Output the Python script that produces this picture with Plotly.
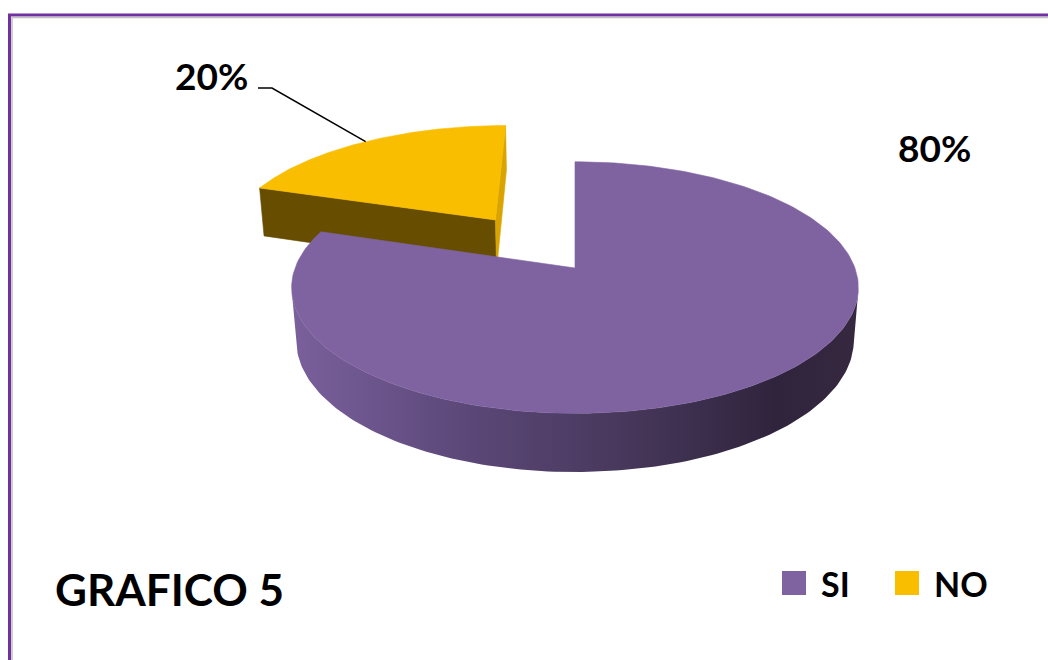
import numpy as np
import plotly.graph_objects as go

# Chart data
labels = ["SI", "NO"]
values = [80, 20]
pct_text = ["80%", "20%"]
top_colors = ["#7F63A1", "#F9BE00"]
side_colors = ["#4F3F66", "#5E4600"]
cut_colors = ["#3A2C4A", "#664D00"]
explode = [0.0, 0.515]

# 3D pie geometry: unit-radius cylinder seen in perspective
CX, CY = 575.0, 268.0      # screen position of the pie centre
FOCAL = 1618.0
DIST = 5.78
TILT = np.radians(26.0)
THICK = 0.21
S, C = np.sin(TILT), np.cos(TILT)
CAM = np.array([0.0, -DIST * C, DIST * S])

W, H = 1048, 660
FONT = "Lato"


def project(X, Y, Z):
    X, Y, Z = np.asarray(X, float), np.asarray(Y, float), np.asarray(Z, float)
    yc = Y * S + Z * C
    d = DIST + Y * C - Z * S
    return CX + FOCAL * X / d, CY - FOCAL * yc / d


def depth(X, Y, Z):
    return DIST + Y * C - Z * S


fig = go.Figure()


def poly(xs, ys, color, gradient=None):
    tr = dict(x=list(xs) + [xs[0]], y=list(ys) + [ys[0]], mode="lines",
              fill="toself", fillcolor=color, line=dict(width=0.6, color=color),
              hoverinfo="skip", showlegend=False)
    if gradient is not None:
        tr["fillgradient"] = gradient
        tr["line"] = dict(width=0)
    fig.add_trace(go.Scatter(**tr))


# slice angles, clockwise from 12 o'clock
total = float(sum(values))
bounds = np.concatenate([[0.0], np.cumsum(values) / total * 2 * np.pi])
slices = []
for i, lab in enumerate(labels):
    a0, a1 = bounds[i], bounds[i + 1]
    am = 0.5 * (a0 + a1)
    off = explode[i] * np.array([np.sin(am), np.cos(am)])
    slices.append(dict(i=i, a0=a0, a1=a1, am=am, off=off,
                       d=depth(off[0], off[1], 0.0)))

purple_side_grad = dict(type="horizontal",
                        colorscale=[[0.0, "#7A609C"], [0.3, "#5C4879"],
                                    [0.6, "#46375A"], [0.85, "#30243D"],
                                    [1.0, "#35283F"]])

label_anchor = {}
# farthest slice is painted first
for sl in sorted(slices, key=lambda s: -s["d"]):
    i, a0, a1, off = sl["i"], sl["a0"], sl["a1"], sl["off"]
    t = np.linspace(a0, a1, 241)
    rx = off[0] + np.sin(t)
    ry = off[1] + np.cos(t)

    # outer curved wall, only where it faces the camera
    nx, ny = np.sin(t), np.cos(t)
    vis = nx * (CAM[0] - rx) + ny * (CAM[1] - ry) > 0
    runs, cur = [], []
    for k, v in enumerate(vis):
        if v:
            cur.append(k)
        elif cur:
            runs.append(cur)
            cur = []
    if cur:
        runs.append(cur)
    for run in runs:
        if len(run) < 2:
            continue
        idx = np.array(run)
        tx, ty = project(rx[idx], ry[idx], np.zeros(len(idx)))
        bx, by = project(rx[idx], ry[idx], np.full(len(idx), -THICK))
        xs = np.concatenate([tx, bx[::-1]])
        ys = np.concatenate([ty, by[::-1]])
        poly(xs, ys, side_colors[i], purple_side_grad if i == 0 else None)

    # flat cut faces along the two radii
    for ang, sign in ((a0, -1.0), (a1, 1.0)):
        n = sign * np.array([np.cos(ang), -np.sin(ang)])
        edge = off + np.array([np.sin(ang), np.cos(ang)])
        mid = 0.5 * (off + edge)
        if n[0] * (CAM[0] - mid[0]) + n[1] * (CAM[1] - mid[1]) > 1e-6:
            X = [off[0], edge[0], edge[0], off[0]]
            Y = [off[1], edge[1], edge[1], off[1]]
            Z = [0, 0, -THICK, -THICK]
            px, py = project(X, Y, Z)
            col = cut_colors[i] if sign < 0 else "#D9A400" if i == 1 else cut_colors[i]
            poly(px, py, col)

    # top face
    px, py = project(np.concatenate([[off[0]], rx]),
                     np.concatenate([[off[1]], ry]),
                     np.zeros(len(rx) + 1))
    poly(px, py, top_colors[i])

    mx, my = project(off[0] + np.sin(sl["am"]), off[1] + np.cos(sl["am"]), 0.0)
    label_anchor[i] = (float(mx), float(my))

# leader line from the NO label to its slice
ax_, ay_ = label_anchor[1]
fig.add_trace(go.Scatter(x=[258, 272, ax_], y=[88, 88, ay_], mode="lines",
                         line=dict(color="black", width=1.5),
                         hoverinfo="skip", showlegend=False))

label_font = dict(family=FONT, size=37, color="black", weight="bold")
fig.add_annotation(x=211, y=75, text=pct_text[1], showarrow=False, font=label_font)
fig.add_annotation(x=934, y=147, text=pct_text[0], showarrow=False, font=label_font)
fig.add_annotation(x=53, y=589, text="GRAFICO 5", showarrow=False, xanchor="left",
                   font=dict(family=FONT, size=44, color="black", weight="bold"))

# legend: colour key squares with their category names
legend_x = [782, 895]
for lx, lab, col in zip(legend_x, labels, top_colors):
    fig.add_shape(type="rect", x0=lx, x1=lx + 24, y0=571, y1=595,
                  fillcolor=col, line=dict(width=0))
    fig.add_annotation(x=lx + 37, y=583, text=lab, showarrow=False, xanchor="left",
                       font=dict(family=FONT, size=34, color="black", weight="bold"))

# frame
fig.add_shape(type="line", x0=8, x1=W, y0=15, y1=15, line=dict(color="#7030A0", width=3))
fig.add_shape(type="line", x0=9.5, x1=9.5, y0=14, y1=H, line=dict(color="#7030A0", width=3))
fig.add_shape(type="line", x0=12, x1=W, y0=17.5, y1=17.5, line=dict(color="#BFBFBF", width=1.5))
fig.add_shape(type="line", x0=12, x1=12, y0=17.5, y1=H, line=dict(color="#BFBFBF", width=1.5))

fig.update_layout(
    width=W, height=H, autosize=False, showlegend=False,
    margin=dict(l=0, r=0, t=0, b=0, autoexpand=False),
    paper_bgcolor="white", plot_bgcolor="white",
    xaxis=dict(range=[0, W], visible=False, fixedrange=True),
    yaxis=dict(range=[H, 0], visible=False, fixedrange=True),
)

fig.write_html("out.html")
